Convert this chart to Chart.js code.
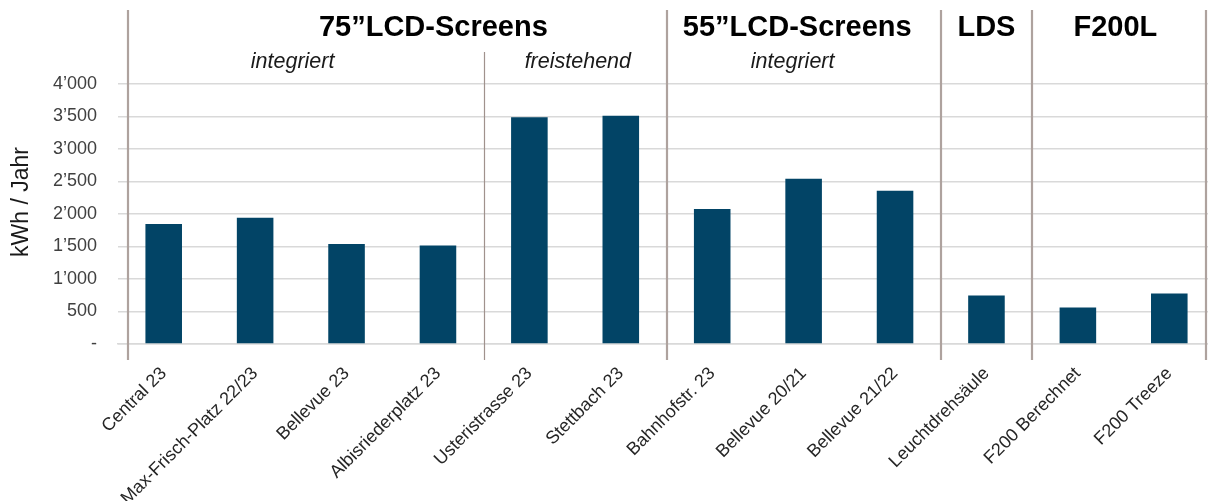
<!DOCTYPE html>
<html>
<head>
<meta charset="utf-8">
<script src="https://cdn.jsdelivr.net/npm/chart.js@4.4.1/dist/chart.umd.min.js"></script>
<style>
  html, body { margin: 0; padding: 0; background: #fff; overflow: hidden; }
  #wrap { width: 1208px; height: 501px; overflow: hidden; }
</style>
</head>
<body>
<div id="wrap">
  <canvas id="myChart" width="1216" height="501"></canvas>
</div>
<script>
// sites and yearly consumption
const sites = ['Central 23', 'Max-Frisch-Platz 22/23', 'Bellevue 23', 'Albisriederplatz 23',
               'Usteristrasse 23', 'Stettbach 23', 'Bahnhofstr. 23', 'Bellevue 20/21',
               'Bellevue 21/22', 'Leuchtdrehsäule', 'F200 Berechnet', 'F200 Treeze'];
const kwhPerYear = [1845, 1942, 1537, 1517, 3490, 3510, 2077, 2541, 2356, 747, 562, 778];

const groupTitles = ['75”LCD-Screens', '55”LCD-Screens', 'LDS', 'F200L'];
const subTitles = ['integriert', 'freistehend', 'integriert'];
const axisTitle = 'kWh / Jahr';

const FONT = '"Liberation Sans", Arial, sans-serif';

function fmt(v) {
  if (v === 0) return '-';
  return String(v).replace(/\B(?=(\d{3})+(?!\d))/g, '’');
}

// header texts, group separators and the y title
const decorations = {
  id: 'decorations',
  afterDraw(chart) {
    const ctx = chart.ctx;
    const x = chart.scales.x;
    const area = chart.chartArea;
    const px = (i) => x.getPixelForValue(i);

    ctx.save();
    // separators
    ctx.strokeStyle = '#aea29e';
    ctx.lineWidth = 2.2;
    [-0.39, 5.5, 8.5, 9.5, 11.4].forEach(function (i) {
      const xx = Math.round(px(i));
      ctx.beginPath();
      ctx.moveTo(xx, 10);
      ctx.lineTo(xx, area.bottom + 16);
      ctx.stroke();
    });
    ctx.lineWidth = 1.2;
    ctx.strokeStyle = '#a0928d';
    ctx.beginPath();
    ctx.moveTo(Math.round(px(3.5)) + 0.5, 52);
    ctx.lineTo(Math.round(px(3.5)) + 0.5, area.bottom + 16);
    ctx.stroke();

    // group titles
    ctx.fillStyle = '#000';
    ctx.textAlign = 'center';
    ctx.textBaseline = 'alphabetic';
    ctx.font = 'bold 29px ' + FONT;
    [2.95, 6.93, 9.0, 10.41].forEach(function (i, k) {
      ctx.fillText(groupTitles[k], px(i), 36);
    });
    ctx.font = 'italic 21.5px ' + FONT;
    ctx.fillStyle = '#1a1a1a';
    [1.41, 4.53, 6.88].forEach(function (i, k) {
      ctx.fillText(subTitles[k], px(i), 68);
    });

    // y title
    ctx.translate(22, 202);
    ctx.rotate(-Math.PI / 2);
    ctx.font = '23px ' + FONT;
    ctx.fillStyle = '#1a1a1a';
    ctx.textBaseline = 'middle';
    ctx.fillText(axisTitle, 0, 0);
    ctx.restore();
  }
};

const ctx = document.getElementById('myChart').getContext('2d');
const myChart = new Chart(ctx, {
  type: 'bar',
  data: {
    labels: sites,
    datasets: [{
      data: kwhPerYear,
      backgroundColor: '#024466',
      barPercentage: 0.4,
      categoryPercentage: 1.0
    }]
  },
  options: {
    responsive: false,
    animation: false,
    devicePixelRatio: 1,
    layout: { padding: { top: 84, right: 1, left: 0, bottom: 0 } },
    plugins: {
      legend: { display: false },
      tooltip: { enabled: false }
    },
    scales: {
      x: {
        grid: { display: false },
        border: { color: '#d9d9d9', width: 1.5 },
        ticks: {
          autoSkip: false,
          minRotation: 45,
          maxRotation: 45,
          padding: 11,
          color: '#262626',
          font: { family: FONT, size: 18 }
        },
        afterFit(scale) { scale.height = 157; }
      },
      y: {
        min: 0,
        max: 4000,
        border: { display: false },
        grid: { color: '#d9d9d9', lineWidth: 1.5, drawTicks: false },
        ticks: {
          stepSize: 500,
          padding: 21,
          color: '#404040',
          font: { family: FONT, size: 18 },
          callback: (v) => fmt(v)
        },
        afterFit(scale) { scale.width = 118; }
      }
    }
  },
  plugins: [decorations]
});
</script>
</body>
</html>
